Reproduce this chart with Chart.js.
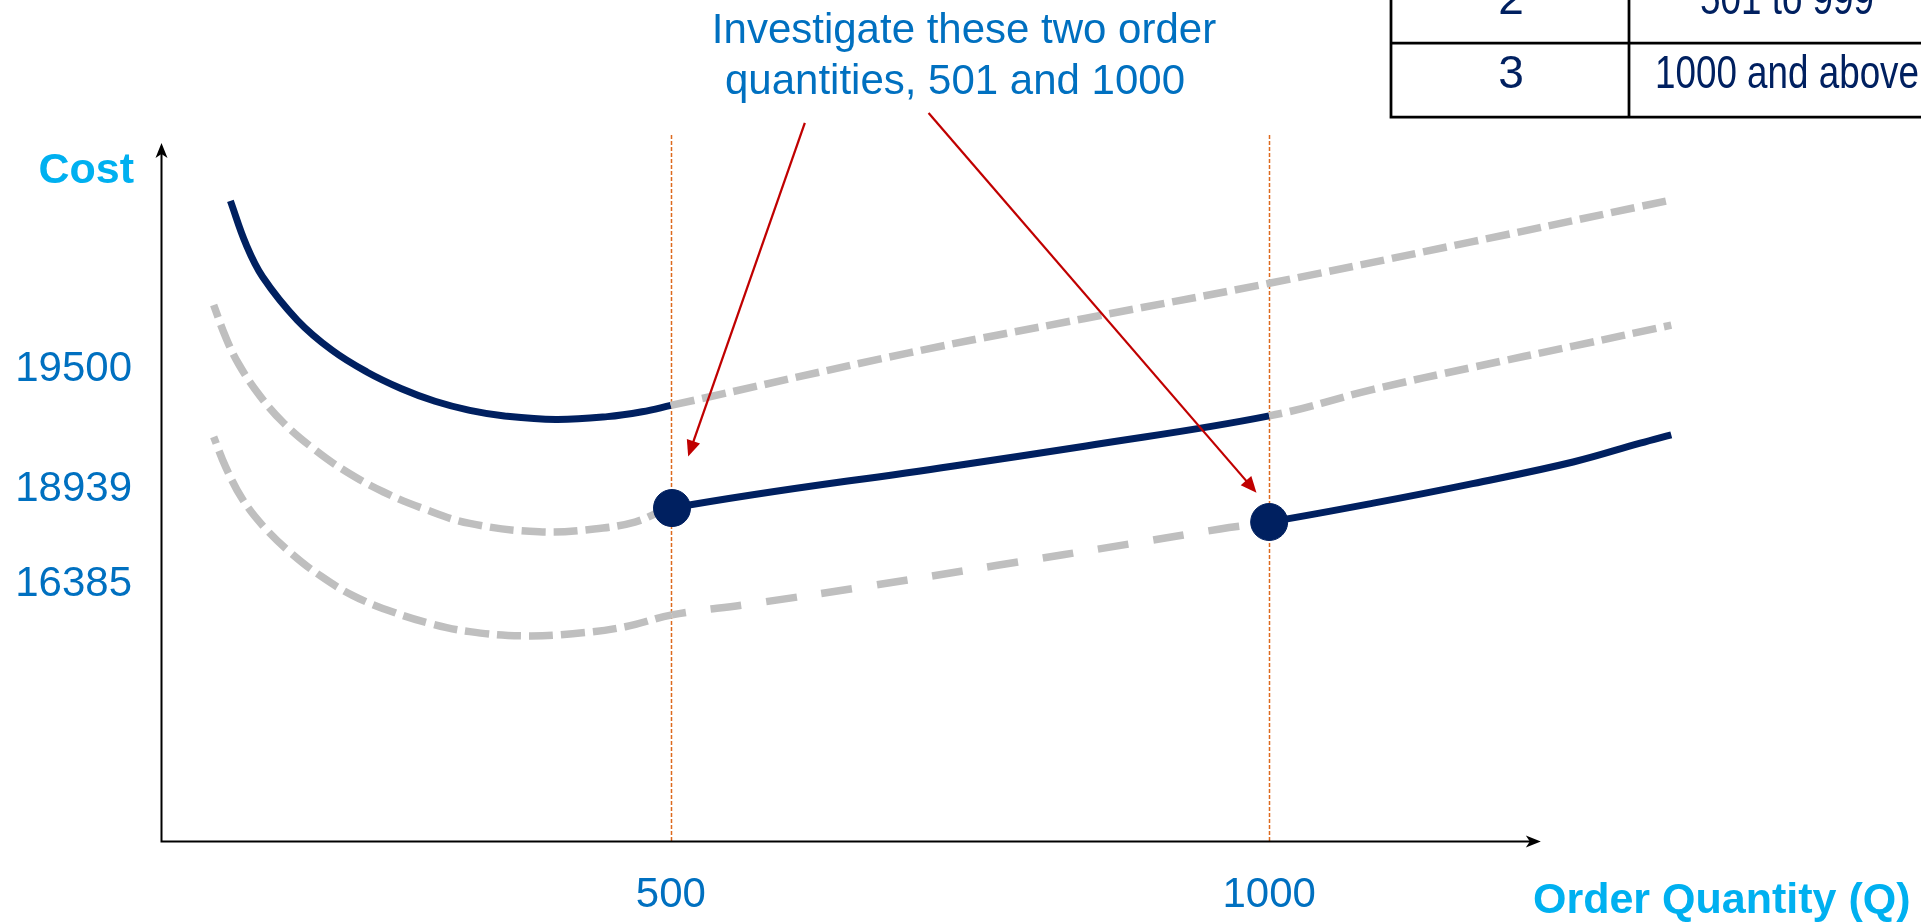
<!DOCTYPE html>
<html>
<head>
<meta charset="utf-8">
<title>Quantity discount – total cost curves</title>
<script src="https://cdn.jsdelivr.net/npm/chart.js@4.4.1/dist/chart.umd.min.js"></script>
<style>
  html, body { margin: 0; padding: 0; background: #ffffff; overflow: hidden; }
  canvas { display: block; }
</style>
</head>
<body>
<canvas id="chart" width="1921" height="923"></canvas>
<script>
// Order quantity (Q) and total cost (relative units) for each price tier
const price1Q    = [132, 145, 159, 188, 217, 246, 275, 303, 332, 361, 404, 447, 476, 500, 698, 847, 1000, 1171, 1335];
const price1Cost = [91.7, 85.5, 80.8, 74.6, 70.3, 67.2, 64.8, 63.0, 61.7, 60.9, 60.4, 60.8, 61.5, 62.4, 69.9, 74.9, 79.9, 85.9, 91.8];

const price2Q    = [118, 128, 139, 157, 177, 203, 229, 260, 292, 332, 390, 436, 470, 501, 735, 847, 1000, 1087, 1171, 1254, 1336];
const price2Cost = [76.8, 72.2, 68.3, 63.7, 59.8, 56.0, 52.9, 50.0, 47.7, 45.5, 44.3, 44.7, 45.7, 47.7, 53.7, 56.6, 60.9, 64.7, 67.9, 70.9, 73.9];

const price3Q    = [118, 128, 142, 160, 183, 208, 234, 263, 298, 332, 375, 418, 462, 501, 564, 661, 773, 885, 959, 1000, 1087, 1170, 1254, 1310, 1336];
const price3Cost = [57.9, 53.6, 49.0, 45.0, 41.2, 37.9, 35.2, 33.1, 31.2, 30.0, 29.4, 29.7, 30.7, 32.4, 33.9, 36.4, 39.5, 42.6, 44.7, 45.7, 48.4, 51.2, 54.3, 57.0, 58.2];

// Quantity range in which each tier's price applies
const tierFrom = [0, 501, 1000];
const tierTo   = [500, 1000, Infinity];

// Candidate order quantities and their total cost
const candidateQ    = [501, 1000];
const candidateCost = [47.7, 45.7];

// Axis ticks
const xTickValues = [500, 1000];
const yTickValues = [67.5, 50.3, 36.7];
const yTickLabels = ['19500', '18939', '16385'];

// Discount table rows
const tierNumbers = ['2', '3'];
const tierRanges  = ['501 to 999', '1000 and above'];

// Callout text and the two arrows (Q, cost) pointing at the candidates
const calloutLines = ['Investigate these two order', 'quantities, 501 and 1000'];
const calloutArrows = [
  { from: [612, 102.9], to: [514.5, 55.1] },
  { from: [715.4, 104.3], to: [989.4, 49.9] }
];

const NAVY = '#002060';
const GREY = '#BFBFBF';
const BLUE = '#0070C0';
const CYAN = '#00B0F0';
const FONT = "'Liberation Sans', Arial, Helvetica, sans-serif";

const series = [
  [price1Q, price1Cost],
  [price2Q, price2Cost],
  [price3Q, price3Cost]
];

function inTier(i, c) {
  return c.p0.parsed.x >= tierFrom[i] && c.p1.parsed.x <= tierTo[i];
}

const curveDatasets = series.map(([q, cost], i) => ({
  label: 'Price ' + (i + 1),
  data: q.map((v, k) => ({ x: v, y: cost[k] })),
  order: 1,
  pointRadius: 0,
  fill: false,
  tension: 0.4,
  borderCapStyle: 'butt',
  borderColor: GREY,
  borderWidth: 7.5,
  borderDashOffset: [0, 11, 17][i],
  segment: {
    borderColor: c => inTier(i, c) ? NAVY : GREY,
    borderWidth: c => inTier(i, c) ? 7 : 7.5,
    borderDash: c => {
      if (inTier(i, c)) return [];
      // the cheapest tier is drawn with a looser dash across the middle range
      if (i === 2 && c.p0.parsed.x >= tierFrom[1] && c.p1.parsed.x <= tierTo[1]) return [31, 25];
      return [24, 8];
    }
  }
}));

const candidateDataset = {
  label: 'Candidates',
  data: candidateQ.map((v, k) => ({ x: v, y: candidateCost[k] })),
  order: 0,
  showLine: false,
  pointRadius: 18.5,
  pointHoverRadius: 18.5,
  pointBackgroundColor: NAVY,
  pointBorderColor: NAVY,
  pointBorderWidth: 1
};

function stealth(ctx, tipX, tipY, ang, len, half, notch) {
  const c = Math.cos(ang), s = Math.sin(ang);
  ctx.beginPath();
  ctx.moveTo(tipX, tipY);
  ctx.lineTo(tipX - len * c + half * s, tipY - len * s - half * c);
  ctx.lineTo(tipX - (len - notch) * c, tipY - (len - notch) * s);
  ctx.lineTo(tipX - len * c - half * s, tipY - len * s + half * c);
  ctx.closePath();
  ctx.fill();
}

const decorations = {
  id: 'decorations',
  beforeDatasetsDraw(chart) {
    const { ctx, scales: { x, y } } = chart;
    ctx.save();
    ctx.strokeStyle = '#DD6A1E';
    ctx.lineWidth = 1.5;
    ctx.setLineDash([4, 2]);
    xTickValues.forEach(v => {
      const px = Math.round(x.getPixelForValue(v)) + 0.5;
      ctx.beginPath();
      ctx.moveTo(px, y.getPixelForValue(0));
      ctx.lineTo(px, y.getPixelForValue(101.4));
      ctx.stroke();
    });
    ctx.restore();
  },
  afterDatasetsDraw(chart) {
    const { ctx, scales: { x, y } } = chart;
    ctx.save();
    ctx.strokeStyle = '#C00000';
    ctx.fillStyle = '#C00000';
    ctx.lineWidth = 2.25;
    calloutArrows.forEach(a => {
      const x0 = x.getPixelForValue(a.from[0]), y0 = y.getPixelForValue(a.from[1]);
      const x1 = x.getPixelForValue(a.to[0]),   y1 = y.getPixelForValue(a.to[1]);
      const ang = Math.atan2(y1 - y0, x1 - x0);
      ctx.beginPath();
      ctx.moveTo(x0, y0);
      ctx.lineTo(x1 - 12 * Math.cos(ang), y1 - 12 * Math.sin(ang));
      ctx.stroke();
      stealth(ctx, x1, y1, ang, 16, 7, 0);
    });
    ctx.restore();
  },
  afterDraw(chart) {
    const { ctx, chartArea: area, scales: { x, y } } = chart;
    ctx.save();

    // axes with arrow heads
    const ox = area.left + 0.5, oy = y.getPixelForValue(0) + 0.5;
    const xEnd = x.getPixelForValue(1227);
    ctx.strokeStyle = '#000000';
    ctx.fillStyle = '#000000';
    ctx.lineWidth = 2;
    ctx.beginPath();
    ctx.moveTo(ox, oy + 1);
    ctx.lineTo(ox, area.top + 10);
    ctx.moveTo(ox - 1, oy);
    ctx.lineTo(xEnd - 10, oy);
    ctx.stroke();
    stealth(ctx, ox, area.top, -Math.PI / 2, 15, 6, 4);
    stealth(ctx, xEnd, oy, 0, 15, 6, 4);

    // axis titles
    ctx.fillStyle = CYAN;
    ctx.font = 'bold 43px ' + FONT;
    ctx.textBaseline = 'alphabetic';
    ctx.textAlign = 'right';
    ctx.fillText('Cost', 134, 183);
    ctx.textAlign = 'left';
    ctx.fillText('Order Quantity (Q)', 1533, 913);

    // callout
    ctx.fillStyle = BLUE;
    ctx.font = '42px ' + FONT;
    ctx.textAlign = 'center';
    ctx.fillText(calloutLines[0], 964, 43);
    ctx.fillText(calloutLines[1], 955, 94);

    // discount table (upper rows run off the top edge)
    ctx.strokeStyle = '#000000';
    ctx.lineWidth = 2.75;
    ctx.setLineDash([]);
    const tLeft = 1391, tDiv = 1629, rowH = 74, tBottom = 117;
    ctx.beginPath();
    ctx.moveTo(tLeft, -4); ctx.lineTo(tLeft, tBottom + 1.4);
    ctx.moveTo(tDiv, -4);  ctx.lineTo(tDiv, tBottom);
    ctx.moveTo(tLeft, tBottom - rowH); ctx.lineTo(1930, tBottom - rowH);
    ctx.moveTo(tLeft - 1.4, tBottom);  ctx.lineTo(1930, tBottom);
    ctx.stroke();
    ctx.fillStyle = NAVY;
    ctx.font = '46px ' + FONT;
    ctx.textAlign = 'center';
    tierNumbers.forEach((t, k) => {
      const base = 88.3 - (tierNumbers.length - 1 - k) * rowH;
      ctx.fillText(t, 1511, base);
      ctx.save();
      ctx.translate(1787, base);
      ctx.scale(0.8, 1);
      ctx.fillText(tierRanges[k], 0, 0);
      ctx.restore();
    });
    ctx.restore();
  }
};

new Chart(document.getElementById('chart'), {
  type: 'line',
  data: { datasets: [candidateDataset, ...curveDatasets] },
  plugins: [decorations],
  options: {
    responsive: false,
    animation: false,
    events: [],
    layout: { padding: { left: 0, right: 221, top: 143, bottom: 0 } },
    plugins: { legend: { display: false }, tooltip: { enabled: false } },
    scales: {
      x: {
        type: 'linear',
        min: 74,
        max: 1360,
        grid: { display: false, drawTicks: false },
        border: { display: false },
        afterBuildTicks: s => { s.ticks = xTickValues.map(v => ({ value: v })); },
        afterFit: s => { s.height = 82; },
        ticks: {
          autoSkip: false,
          maxRotation: 0,
          padding: 29,
          color: BLUE,
          font: { family: FONT, size: 42 },
          callback: v => String(v)
        }
      },
      y: {
        type: 'linear',
        min: 0,
        max: 100,
        grid: { display: false, drawTicks: false },
        border: { display: false },
        afterBuildTicks: s => { s.ticks = yTickValues.map(v => ({ value: v })); },
        afterFit: s => { s.width = 161; },
        ticks: {
          autoSkip: false,
          padding: 29,
          color: BLUE,
          font: { family: FONT, size: 42 },
          callback: v => yTickLabels[yTickValues.indexOf(v)]
        }
      }
    }
  }
});
</script>
</body>
</html>
